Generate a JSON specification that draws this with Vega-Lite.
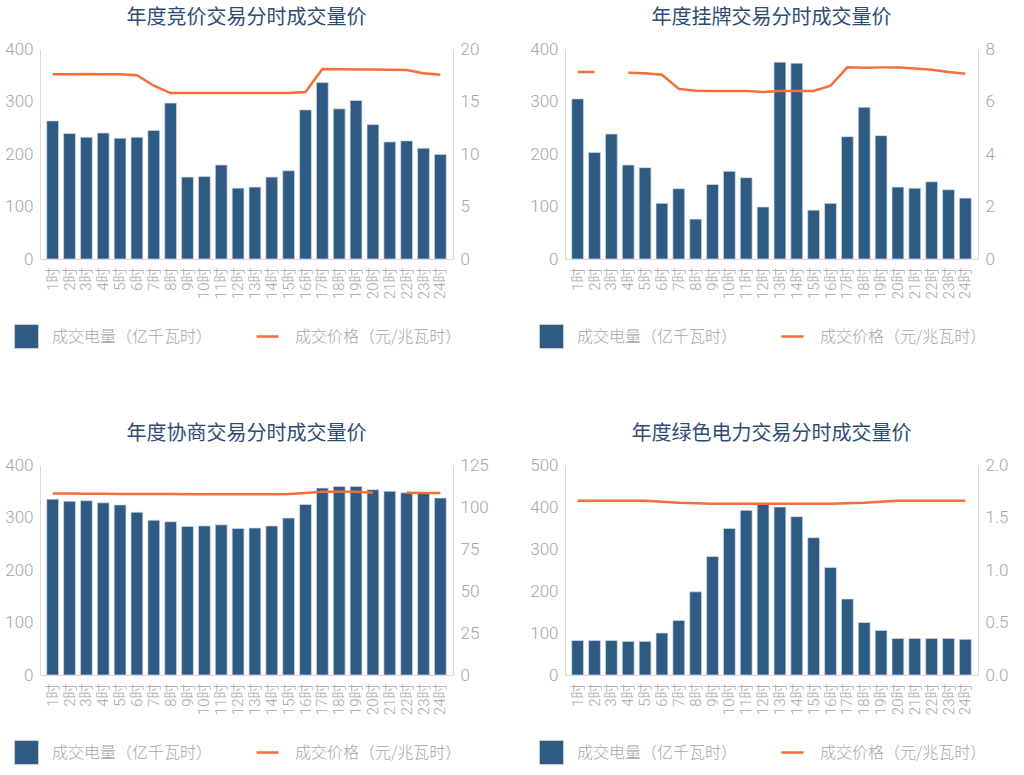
{
  "$schema": "https://vega.github.io/schema/vega-lite/v6.json",
  "background": "white",
  "padding": {"left": 4, "top": 8, "right": 5, "bottom": 5},
  "config": {
    "view": {"stroke": null},
    "font": "Noto Sans CJK SC",
    "title": {"fontSize": 20, "fontWeight": "normal", "color": "#2c4d73", "font": "Noto Sans CJK SC", "anchor": "middle", "offset": 12},
    "axis": {"domainColor": "#d9d9d9", "domainWidth": 1, "ticks": false, "grid": false, "labelColor": "#a6a6a6", "labelFont": "Roboto, Noto Sans CJK SC", "labelFontWeight": 300, "title": null},
    "axisY": {"labelFontSize": 17, "labelPadding": 7},
    "axisX": {"labelFontSize": 15, "labelAngle": -90, "labelPadding": 8},
    "legend": {"orient": "none", "padding": 0, "title": null, "labelFontSize": 16, "labelLimit": 400, "labelColor": "#a6a6a6", "labelFont": "Noto Sans CJK SC", "labelFontWeight": 300},
    "bar": {"stroke": "#d5dde6", "strokeWidth": 0.7},
    "line": {"strokeWidth": 2.5, "invalid": "break-paths-filter-domains"}
  },
  "datasets": {
    "p1": [
      {"h": "1时", "v": 263, "p": 17.6}, {"h": "2时", "v": 239, "p": 17.6}, {"h": "3时", "v": 232, "p": 17.62},
      {"h": "4时", "v": 240, "p": 17.6}, {"h": "5时", "v": 230, "p": 17.6}, {"h": "6时", "v": 232, "p": 17.5},
      {"h": "7时", "v": 245, "p": 16.5}, {"h": "8时", "v": 297, "p": 15.8}, {"h": "9时", "v": 156, "p": 15.8},
      {"h": "10时", "v": 157, "p": 15.8}, {"h": "11时", "v": 179, "p": 15.8}, {"h": "12时", "v": 135, "p": 15.8},
      {"h": "13时", "v": 137, "p": 15.8}, {"h": "14时", "v": 156, "p": 15.8}, {"h": "15时", "v": 168, "p": 15.8},
      {"h": "16时", "v": 284, "p": 15.9}, {"h": "17时", "v": 336, "p": 18.1}, {"h": "18时", "v": 286, "p": 18.08},
      {"h": "19时", "v": 302, "p": 18.05}, {"h": "20时", "v": 256, "p": 18.05}, {"h": "21时", "v": 223, "p": 18.02},
      {"h": "22时", "v": 225, "p": 18.0}, {"h": "23时", "v": 211, "p": 17.7}, {"h": "24时", "v": 199, "p": 17.55}
    ],
    "p2": [
      {"h": "1时", "v": 305, "p": 7.12}, {"h": "2时", "v": 203, "p": 7.12}, {"h": "3时", "v": 238, "p": null},
      {"h": "4时", "v": 179, "p": 7.1}, {"h": "5时", "v": 174, "p": 7.08}, {"h": "6时", "v": 106, "p": 7.02},
      {"h": "7时", "v": 134, "p": 6.48}, {"h": "8时", "v": 76, "p": 6.41}, {"h": "9时", "v": 142, "p": 6.4},
      {"h": "10时", "v": 167, "p": 6.4}, {"h": "11时", "v": 155, "p": 6.4}, {"h": "12时", "v": 99, "p": 6.36},
      {"h": "13时", "v": 375, "p": 6.4}, {"h": "14时", "v": 373, "p": 6.4}, {"h": "15时", "v": 93, "p": 6.4},
      {"h": "16时", "v": 106, "p": 6.6}, {"h": "17时", "v": 233, "p": 7.3}, {"h": "18时", "v": 289, "p": 7.29},
      {"h": "19时", "v": 235, "p": 7.3}, {"h": "20时", "v": 137, "p": 7.3}, {"h": "21时", "v": 135, "p": 7.26},
      {"h": "22时", "v": 147, "p": 7.21}, {"h": "23时", "v": 132, "p": 7.12}, {"h": "24时", "v": 116, "p": 7.06}
    ],
    "p3": [
      {"h": "1时", "v": 335, "p": 108.1}, {"h": "2时", "v": 331, "p": 108.0}, {"h": "3时", "v": 332, "p": 107.9},
      {"h": "4时", "v": 328, "p": 107.9}, {"h": "5时", "v": 324, "p": 107.8}, {"h": "6时", "v": 310, "p": 107.8},
      {"h": "7时", "v": 295, "p": 107.7}, {"h": "8时", "v": 292, "p": 107.7}, {"h": "9时", "v": 283, "p": 107.6},
      {"h": "10时", "v": 284, "p": 107.6}, {"h": "11时", "v": 286, "p": 107.6}, {"h": "12时", "v": 279, "p": 107.6},
      {"h": "13时", "v": 280, "p": 107.6}, {"h": "14时", "v": 284, "p": 107.6}, {"h": "15时", "v": 299, "p": 107.7},
      {"h": "16时", "v": 325, "p": 108.3}, {"h": "17时", "v": 356, "p": 109.1}, {"h": "18时", "v": 359, "p": 109.1},
      {"h": "19时", "v": 359, "p": 109.1}, {"h": "20时", "v": 353, "p": 108.5}, {"h": "21时", "v": 350, "p": null},
      {"h": "22时", "v": 347, "p": 108.5}, {"h": "23时", "v": 347, "p": 108.3}, {"h": "24时", "v": 337, "p": 108.3}
    ],
    "p4": [
      {"h": "1时", "v": 82, "p": 1.66}, {"h": "2时", "v": 82, "p": 1.66}, {"h": "3时", "v": 82, "p": 1.66},
      {"h": "4时", "v": 80, "p": 1.66}, {"h": "5时", "v": 80, "p": 1.66}, {"h": "6时", "v": 100, "p": 1.65},
      {"h": "7时", "v": 130, "p": 1.64}, {"h": "8时", "v": 198, "p": 1.635}, {"h": "9时", "v": 282, "p": 1.63},
      {"h": "10时", "v": 349, "p": 1.63}, {"h": "11时", "v": 392, "p": 1.63}, {"h": "12时", "v": 406, "p": 1.63},
      {"h": "13时", "v": 400, "p": 1.63}, {"h": "14时", "v": 377, "p": 1.63}, {"h": "15时", "v": 327, "p": 1.63},
      {"h": "16时", "v": 256, "p": 1.63}, {"h": "17时", "v": 181, "p": 1.635}, {"h": "18时", "v": 125, "p": 1.64},
      {"h": "19时", "v": 106, "p": 1.65}, {"h": "20时", "v": 87, "p": 1.66}, {"h": "21时", "v": 87, "p": 1.66},
      {"h": "22时", "v": 87, "p": 1.66}, {"h": "23时", "v": 87, "p": 1.66}, {"h": "24时", "v": 85, "p": 1.66}
    ]
  },
  "columns": 2,
  "bounds": "flush",
  "spacing": {"row": 206, "column": 112},
  "resolve": {
    "scale": {"fill": "independent", "stroke": "independent"},
    "legend": {"fill": "independent", "stroke": "independent"}
  },
  "concat": [
    {
      "title": "年度竞价交易分时成交量价",
      "data": {"name": "p1"},
      "width": 413,
      "height": 210,
      "encoding": {
        "x": {"field": "h", "type": "ordinal", "sort": null, "scale": {"paddingInner": 0.3, "paddingOuter": 0.4}}
      },
      "layer": [
        {
          "mark": "bar",
          "encoding": {
            "y": {"field": "v", "type": "quantitative", "scale": {"domain": [0, 400]}, "axis": {"values": [0, 100, 200, 300, 400]}},
            "fill": {"datum": "成交电量（亿千瓦时）", "scale": {"range": ["#2f5a82"]},
              "legend": {"legendX": -26, "legendY": 275, "symbolType": "square", "symbolSize": 576, "symbolStrokeWidth": 0, "labelOffset": 13}}
          }
        },
        {
          "mark": "line",
          "encoding": {
            "y": {"field": "p", "type": "quantitative", "scale": {"domain": [0, 20]}, "axis": {"orient": "right", "values": [0, 5, 10, 15, 20]}},
            "stroke": {"datum": "成交价格（元/兆瓦时）", "scale": {"range": ["#f36f36"]},
              "legend": {"legendX": 215, "legendY": 275, "symbolType": "stroke", "symbolSize": 484, "symbolStrokeWidth": 3.5, "labelOffset": 15}}
          }
        }
      ],
      "resolve": {"scale": {"y": "independent"}}
    },
    {
      "title": "年度挂牌交易分时成交量价",
      "data": {"name": "p2"},
      "width": 413,
      "height": 210,
      "encoding": {
        "x": {"field": "h", "type": "ordinal", "sort": null, "scale": {"paddingInner": 0.3, "paddingOuter": 0.4}}
      },
      "layer": [
        {
          "mark": "bar",
          "encoding": {
            "y": {"field": "v", "type": "quantitative", "scale": {"domain": [0, 400]}, "axis": {"values": [0, 100, 200, 300, 400]}},
            "fill": {"datum": "成交电量（亿千瓦时）", "scale": {"range": ["#2f5a82"]},
              "legend": {"legendX": -26, "legendY": 275, "symbolType": "square", "symbolSize": 576, "symbolStrokeWidth": 0, "labelOffset": 13}}
          }
        },
        {
          "mark": "line",
          "encoding": {
            "y": {"field": "p", "type": "quantitative", "scale": {"domain": [0, 8]}, "axis": {"orient": "right", "values": [0, 2, 4, 6, 8]}},
            "stroke": {"datum": "成交价格（元/兆瓦时）", "scale": {"range": ["#f36f36"]},
              "legend": {"legendX": 215, "legendY": 275, "symbolType": "stroke", "symbolSize": 484, "symbolStrokeWidth": 3.5, "labelOffset": 15}}
          }
        }
      ],
      "resolve": {"scale": {"y": "independent"}}
    },
    {
      "title": "年度协商交易分时成交量价",
      "data": {"name": "p3"},
      "width": 413,
      "height": 210,
      "encoding": {
        "x": {"field": "h", "type": "ordinal", "sort": null, "scale": {"paddingInner": 0.3, "paddingOuter": 0.4}}
      },
      "layer": [
        {
          "mark": "bar",
          "encoding": {
            "y": {"field": "v", "type": "quantitative", "scale": {"domain": [0, 400]}, "axis": {"values": [0, 100, 200, 300, 400]}},
            "fill": {"datum": "成交电量（亿千瓦时）", "scale": {"range": ["#2f5a82"]},
              "legend": {"legendX": -26, "legendY": 275, "symbolType": "square", "symbolSize": 576, "symbolStrokeWidth": 0, "labelOffset": 13}}
          }
        },
        {
          "mark": "line",
          "encoding": {
            "y": {"field": "p", "type": "quantitative", "scale": {"domain": [0, 125]}, "axis": {"orient": "right", "values": [0, 25, 50, 75, 100, 125]}},
            "stroke": {"datum": "成交价格（元/兆瓦时）", "scale": {"range": ["#f36f36"]},
              "legend": {"legendX": 215, "legendY": 275, "symbolType": "stroke", "symbolSize": 484, "symbolStrokeWidth": 3.5, "labelOffset": 15}}
          }
        }
      ],
      "resolve": {"scale": {"y": "independent"}}
    },
    {
      "title": "年度绿色电力交易分时成交量价",
      "data": {"name": "p4"},
      "width": 413,
      "height": 210,
      "encoding": {
        "x": {"field": "h", "type": "ordinal", "sort": null, "scale": {"paddingInner": 0.3, "paddingOuter": 0.4}}
      },
      "layer": [
        {
          "mark": "bar",
          "encoding": {
            "y": {"field": "v", "type": "quantitative", "scale": {"domain": [0, 500]}, "axis": {"values": [0, 100, 200, 300, 400, 500]}},
            "fill": {"datum": "成交电量（亿千瓦时）", "scale": {"range": ["#2f5a82"]},
              "legend": {"legendX": -26, "legendY": 275, "symbolType": "square", "symbolSize": 576, "symbolStrokeWidth": 0, "labelOffset": 13}}
          }
        },
        {
          "mark": "line",
          "encoding": {
            "y": {"field": "p", "type": "quantitative", "scale": {"domain": [0, 2]}, "axis": {"orient": "right", "values": [0, 0.5, 1, 1.5, 2], "format": ".1f"}},
            "stroke": {"datum": "成交价格（元/兆瓦时）", "scale": {"range": ["#f36f36"]},
              "legend": {"legendX": 215, "legendY": 275, "symbolType": "stroke", "symbolSize": 484, "symbolStrokeWidth": 3.5, "labelOffset": 15}}
          }
        }
      ],
      "resolve": {"scale": {"y": "independent"}}
    }
  ]
}
